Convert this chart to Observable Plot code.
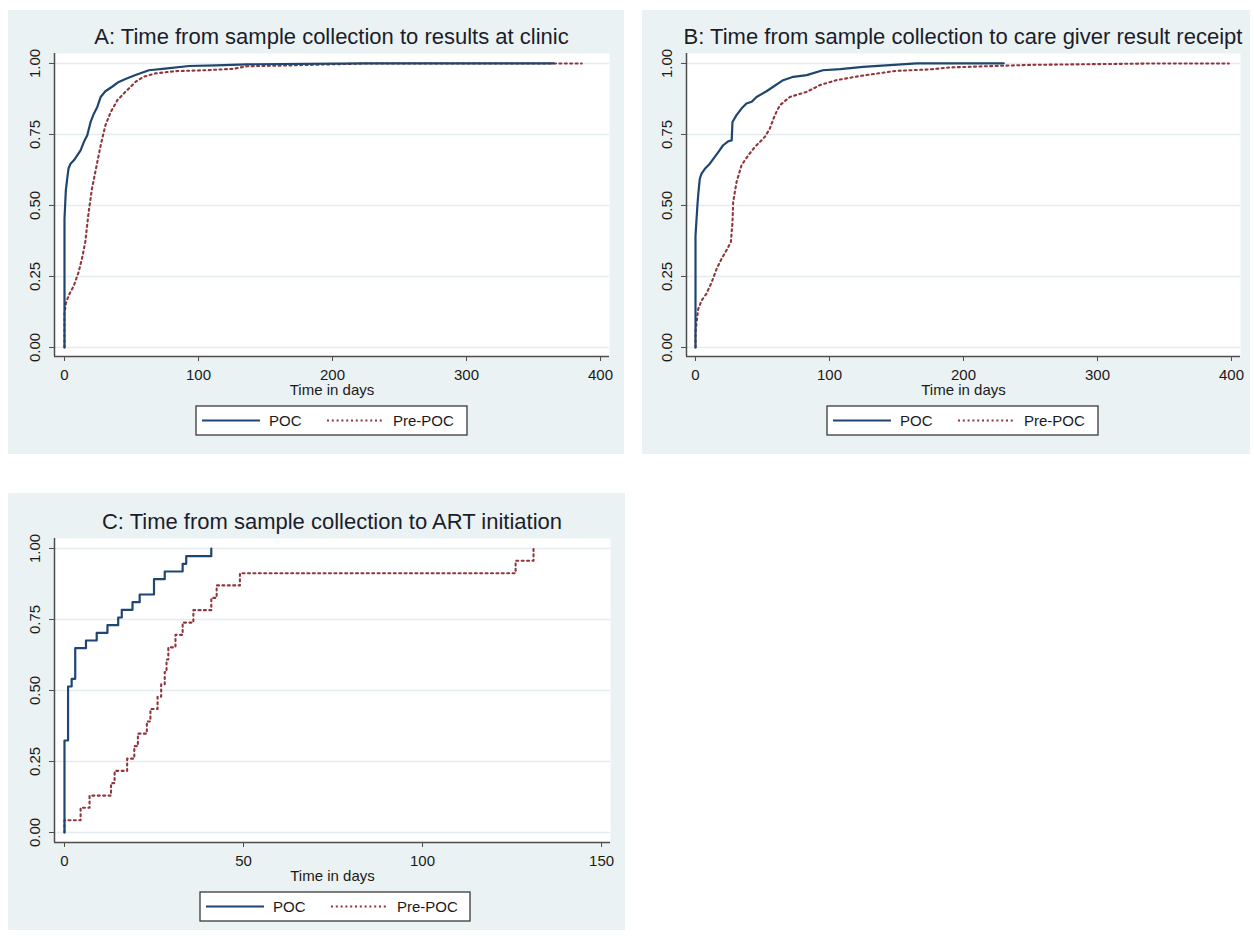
<!DOCTYPE html>
<html><head><meta charset="utf-8">
<script src="https://cdn.jsdelivr.net/npm/d3@7"></script>
<script src="https://cdn.jsdelivr.net/npm/@observablehq/plot@0.6"></script>
<style>
body{margin:0;background:#fff;font-family:"Liberation Sans",Arial,sans-serif;}
#page{position:relative;width:1254px;height:936px;overflow:hidden;background:#fff;}
.panel{position:absolute;background:#eaf2f3;}
.title{position:absolute;font-size:22px;line-height:22px;color:#1c1d2b;text-align:center;white-space:nowrap;}
</style></head><body><div id="page"></div>
<script>
// ---- text ----
const seriesNames = ["POC", "Pre-POC"];
const panelTitles = [
  "A: Time from sample collection to results at clinic",
  "B: Time from sample collection to care giver result receipt",
  "C: Time from sample collection to ART initiation"
];
const xAxisLabel = "Time in days";
const yTicks = [0, 0.25, 0.5, 0.75, 1];
const xTicksAB = [0, 100, 200, 300, 400];
const xTicksC = [0, 50, 100, 150];

// ---- Panel A ----
const aPocDays   = [0, 0, 1, 2, 3, 4.5, 7, 9.5, 12, 14.5, 17, 19.5, 22, 24.5, 27, 30.5, 35.5, 40.5, 45.5, 53, 63, 75, 93, 113, 136, 225, 365];
const aPocValues = [0, 0.453, 0.553, 0.594, 0.63, 0.647, 0.659, 0.676, 0.694, 0.724, 0.747, 0.794, 0.824, 0.847, 0.882, 0.902, 0.918, 0.935, 0.945, 0.959, 0.976, 0.982, 0.991, 0.993, 0.997, 1.0, 1.0];
const aPreDays   = [0, 0, 1, 3, 7, 10.5, 13, 15.5, 18, 20.5, 23, 27, 30.5, 34.5, 39.5, 45.5, 53, 59, 68, 83, 105, 126, 136, 167, 225, 386];
const aPreValues = [0, 0.12, 0.155, 0.182, 0.218, 0.265, 0.312, 0.371, 0.476, 0.559, 0.618, 0.712, 0.782, 0.829, 0.871, 0.9, 0.935, 0.953, 0.965, 0.973, 0.976, 0.981, 0.99, 0.993, 1.0, 1.0];

// ---- Panel B ----
const bPocDays   = [0, 0, 1.5, 2.2, 3.2, 4.5, 7, 10.7, 14.4, 17, 20.6, 24.4, 27, 27.6, 30.6, 34.3, 38, 42, 45.5, 53, 58, 65.4, 73, 83, 95, 108, 125, 165, 230];
const bPocValues = [0, 0.394, 0.506, 0.547, 0.594, 0.612, 0.629, 0.647, 0.671, 0.688, 0.712, 0.726, 0.729, 0.794, 0.818, 0.841, 0.859, 0.865, 0.882, 0.902, 0.918, 0.941, 0.953, 0.959, 0.976, 0.98, 0.988, 1.0, 1.0];
const bPreDays   = [0, 0, 0.75, 2, 4.5, 8, 12, 15.7, 19.4, 23, 26.4, 27.6, 28.1, 30.6, 34.3, 39.3, 44.3, 51.7, 55.5, 59.2, 63, 70.4, 83, 93, 105, 123, 150, 175, 190, 250, 345, 398];
const bPreValues = [0, 0.053, 0.088, 0.135, 0.165, 0.188, 0.229, 0.276, 0.312, 0.341, 0.371, 0.441, 0.512, 0.582, 0.641, 0.676, 0.706, 0.741, 0.771, 0.818, 0.853, 0.882, 0.9, 0.924, 0.941, 0.956, 0.974, 0.979, 0.986, 0.995, 1.0, 1.0];

// ---- Panel C ----
const cPocDays   = [0, 0, 1, 2, 3, 6, 9, 12, 15, 16, 19, 21, 25, 28, 33, 34, 41];
const cPocValues = [0, 0.324, 0.514, 0.541, 0.649, 0.676, 0.703, 0.73, 0.757, 0.784, 0.811, 0.838, 0.892, 0.919, 0.946, 0.973, 1.0];
const cPreDays   = [0, 0, 4.5, 7, 13, 14, 17.5, 19.5, 20.5, 23, 24, 26, 27, 28, 28.5, 29, 31, 33, 36, 41, 42.5, 49, 126, 131];
const cPreValues = [0, 0.043, 0.087, 0.13, 0.174, 0.217, 0.26, 0.304, 0.348, 0.391, 0.435, 0.478, 0.522, 0.565, 0.609, 0.652, 0.696, 0.739, 0.783, 0.826, 0.87, 0.913, 0.957, 1.0];

// ---- styles ----
const pocColor = "#1f4670";
const preColor = "#90353b";
const gridColor = "#e3ecef";
const axisColor = "#4d4d4d";
const textColor = "#1a1a1a";
const fontFamily = '"Liberation Sans", Arial, sans-serif';

const toRows = (days, values) => days.map((d, i) => ({day: d, value: values[i]}));

const panels = [
  {title: panelTitles[0], bg: [8, 10, 616, 444], plot: {left: 54, right: 609, top: 53, bottom: 356},
   xDomain: [-7.46, 406.7], yDomain: [-0.0317, 1.035], xTicks: xTicksAB, curve: "linear",
   poc: toRows(aPocDays, aPocValues), pre: toRows(aPreDays, aPreValues), legend: [196, 406, 271, 29]},
  {title: panelTitles[1], bg: [642, 10, 608, 444], plot: {left: 686, right: 1240, top: 53, bottom: 356},
   xDomain: [-6.72, 406.7], yDomain: [-0.0317, 1.035], xTicks: xTicksAB, curve: "linear",
   poc: toRows(bPocDays, bPocValues), pre: toRows(bPreDays, bPreValues), legend: [827, 406, 271, 29]},
  {title: panelTitles[2], bg: [8, 493, 617, 437], plot: {left: 54, right: 610, top: 538, bottom: 842},
   xDomain: [-2.79, 152.5], yDomain: [-0.0352, 1.0352], xTicks: xTicksC, curve: "step-after",
   poc: toRows(cPocDays, cPocValues), pre: toRows(cPreDays, cPreValues), legend: [200, 892, 270, 29]}
];

const page = document.getElementById("page");

function drawPanel(p) {
  const bg = document.createElement("div");
  bg.className = "panel";
  Object.assign(bg.style, {left: p.bg[0] + "px", top: p.bg[1] + "px", width: p.bg[2] + "px", height: p.bg[3] + "px"});
  page.appendChild(bg);

  const cx = (p.plot.left + p.plot.right) / 2;
  const title = document.createElement("div");
  title.className = "title";
  title.textContent = p.title;
  Object.assign(title.style, {left: (cx - 400) + "px", width: "800px", top: (p.plot.top - 16 - 10.7) + "px"});
  page.appendChild(title);

  const plotH = p.plot.bottom - p.plot.top;
  const chart = Plot.plot({
    width: p.bg[2],
    height: plotH + 50,
    marginLeft: p.plot.left - p.bg[0],
    marginRight: p.bg[0] + p.bg[2] - p.plot.right,
    marginTop: 0,
    marginBottom: 50,
    style: {background: "transparent", fontFamily, overflow: "visible", color: textColor},
    x: {domain: p.xDomain},
    y: {domain: p.yDomain},
    marks: [
      Plot.frame({fill: "white", stroke: "none"}),
      Plot.ruleY(yTicks, {stroke: gridColor, strokeWidth: 1.5}),
      Plot.ruleX([p.xDomain[0]], {stroke: axisColor, strokeWidth: 1.5}),
      Plot.ruleY([p.yDomain[0]], {stroke: axisColor, strokeWidth: 1.5}),
      Plot.axisX({ticks: p.xTicks, tickSize: 5, tickPadding: 7.5, fontSize: 15, tickFormat: d => String(d), label: null, stroke: axisColor, fill: textColor}),
      Plot.axisY({ticks: yTicks, tickSize: 5, tickFormat: () => "", label: null, stroke: axisColor}),
      Plot.text(yTicks, {x: () => p.xDomain[0], y: d => d, text: d => d.toFixed(2), rotate: -90, dx: -19,
        textAnchor: "middle", lineAnchor: "middle", fontSize: 15, fill: textColor}),
      Plot.text([xAxisLabel], {frameAnchor: "bottom", dy: 38, text: d => d, fontSize: 15, fill: textColor}),
      Plot.line(p.pre, {x: "day", y: "value", curve: p.curve, stroke: preColor, strokeWidth: 2.1, strokeDasharray: "2,3.4"}),
      Plot.line(p.poc, {x: "day", y: "value", curve: p.curve, stroke: pocColor, strokeWidth: 2.2})
    ]
  });
  Object.assign(chart.style, {position: "absolute", left: p.bg[0] + "px", top: p.plot.top + "px"});
  page.appendChild(chart);

  // legend
  const [lx, ly, lw, lh] = p.legend;
  const leg = d3.create("svg").attr("width", lw + 2).attr("height", lh + 2)
    .style("position", "absolute").style("left", (lx - 1) + "px").style("top", (ly - 1) + "px")
    .style("font-family", fontFamily);
  leg.append("rect").attr("x", 1).attr("y", 1).attr("width", lw).attr("height", lh)
    .attr("fill", "white").attr("stroke", "#3a3a3a").attr("stroke-width", 1.3);
  const my = 1 + lh / 2;
  leg.append("line").attr("x1", 7).attr("x2", 65).attr("y1", my).attr("y2", my)
    .attr("stroke", pocColor).attr("stroke-width", 2.2);
  leg.append("text").attr("x", 74).attr("y", my + 5.3).attr("font-size", 15).attr("fill", textColor).text(seriesNames[0]);
  leg.append("line").attr("x1", 132).attr("x2", 189).attr("y1", my).attr("y2", my)
    .attr("stroke", preColor).attr("stroke-width", 2.1).attr("stroke-dasharray", "2,2.8");
  leg.append("text").attr("x", 198).attr("y", my + 5.3).attr("font-size", 15).attr("fill", textColor).text(seriesNames[1]);
  page.appendChild(leg.node());
}

panels.forEach(drawPanel);
</script>
</body></html>
